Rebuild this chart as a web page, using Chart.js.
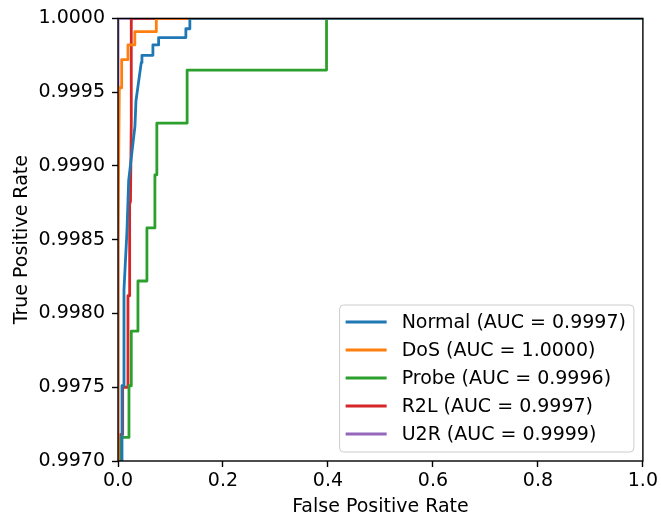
<!DOCTYPE html>
<html>
<head>
<meta charset="utf-8">
<title>ROC</title>
<script src="https://cdn.jsdelivr.net/npm/chart.js@4.4.1/dist/chart.umd.min.js"></script>
<style>
  html, body { margin: 0; padding: 0; background: #fff; }
  canvas { display: block; }
</style>
</head>
<body>
<canvas id="roc" width="661" height="520"></canvas>
<script>
// ROC curves per class (false positive rate / true positive rate)
const classNames = ["Normal", "DoS", "Probe", "R2L", "U2R"];
const aucValues = [0.9997, 1.0000, 0.9996, 0.9997, 0.9999];
const colors = ["#1f77b4", "#ff7f0e", "#2ca02c", "#d62728", "#9467bd"];

const normalFpr = [0, 0.0076, 0.0076, 0.0114, 0.0114, 0.0171, 0.0203, 0.0323, 0.0342, 0.0443, 0.0456, 0.0665, 0.0665, 0.0774, 0.0774, 0.1293, 0.1293, 0.1369, 0.1369, 1];
const normalTpr = [0, 0.9970, 0.99751, 0.99751, 0.99816, 0.99856, 0.99890, 0.99927, 0.99944, 0.99970, 0.99975, 0.99975, 0.99982, 0.99982, 0.99987, 0.99987, 0.99993, 0.99993, 1, 1];

const dosFpr = [0, 0, 0.0025, 0.007, 0.007, 0.019, 0.019, 0.032, 0.032, 0.073, 0.073, 1];
const dosTpr = [0, 0.9985, 0.99953, 0.99953, 0.99972, 0.99972, 0.99982, 0.99982, 0.99991, 0.99991, 1, 1];

const probeFpr = [0, 0.0057, 0.0057, 0.0209, 0.0209, 0.0253, 0.0253, 0.038, 0.038, 0.0551, 0.0551, 0.0703, 0.0703, 0.074, 0.074, 0.1317, 0.1317, 0.3973, 0.3973, 1];
const probeTpr = [0, 0.9970, 0.99716, 0.99716, 0.99751, 0.99751, 0.99788, 0.99788, 0.99822, 0.99822, 0.99858, 0.99858, 0.99894, 0.99894, 0.99929, 0.99929, 0.99965, 0.99965, 1, 1];

const r2lFpr = [0, 0.0051, 0.0051, 0.0089, 0.0089, 0.0184, 0.019, 0.0222, 0.0222, 0.0238, 0.0253, 0.0253, 1];
const r2lTpr = [0, 0.9970, 0.99718, 0.99718, 0.99750, 0.99750, 0.99812, 0.99812, 0.99874, 0.99876, 0.99930, 1, 1];

const u2rFpr = [0, 0, 1];
const u2rTpr = [0, 1, 1];

const xTicks = [0.0, 0.2, 0.4, 0.6, 0.8, 1.0];
const yTicks = [0.9970, 0.9975, 0.9980, 0.9985, 0.9990, 0.9995, 1.0000];

const FONT = '"DejaVu Sans", sans-serif';
const FONT_SIZE = 19;
const LINE_W = 2.8;

function toPoints(fpr, tpr) {
  return fpr.map((x, i) => ({ x, y: tpr[i] }));
}

const curves = [
  toPoints(normalFpr, normalTpr),
  toPoints(dosFpr, dosTpr),
  toPoints(probeFpr, probeTpr),
  toPoints(r2lFpr, r2lTpr),
  toPoints(u2rFpr, u2rTpr)
];

const datasets = curves.map((pts, i) => ({
  label: `${classNames[i]} (AUC = ${aucValues[i].toFixed(4)})`,
  data: pts,
  borderColor: colors[i],
  backgroundColor: colors[i],
  borderWidth: LINE_W,
  borderJoinStyle: "round",
  pointRadius: 0,
  tension: 0,
  fill: false
}));

/* ---------- frame round the plot area ---------- */
const frame = {
  id: "frame",
  afterDatasetsDraw(chart) {
    const { ctx, chartArea: a } = chart;
    ctx.save();
    ctx.strokeStyle = "#000";
    ctx.lineWidth = 1.4;
    ctx.strokeRect(a.left, a.top, a.right - a.left, a.bottom - a.top);
    ctx.restore();
  }
};

/* ---------- legend box, lower right inside the axes ---------- */
const legendBox = {
  id: "legendBox",
  afterDraw(chart) {
    const { ctx, chartArea: a } = chart;
    const sets = chart.data.datasets;
    ctx.save();
    ctx.font = `${FONT_SIZE}px ${FONT}`;
    const textW = Math.max(...sets.map(d => ctx.measureText(d.label).width));
    const padL = 6, handle = 41, gap = 15, padR = 8;
    const rowTop = 17, pitch = 28, padB = 18;
    const w = padL + handle + gap + textW + padR;
    const h = rowTop + pitch * (sets.length - 1) + padB;
    const right = a.right - 9, bottom = a.bottom - 9;
    const left = right - w, top = bottom - h;

    ctx.beginPath();
    ctx.roundRect(left, top, w, h, 4);
    ctx.fillStyle = "rgba(255,255,255,0.8)";
    ctx.fill();
    ctx.strokeStyle = "#cccccc";
    ctx.lineWidth = 1;
    ctx.stroke();

    sets.forEach((d, i) => {
      const y = top + rowTop + i * pitch;
      ctx.beginPath();
      ctx.moveTo(left + padL, y);
      ctx.lineTo(left + padL + handle, y);
      ctx.strokeStyle = d.borderColor;
      ctx.lineWidth = LINE_W;
      ctx.stroke();
      ctx.fillStyle = "#000";
      ctx.textBaseline = "middle";
      ctx.textAlign = "left";
      ctx.fillText(d.label, left + padL + handle + gap, y + 1);
    });
    ctx.restore();
  }
};

Chart.defaults.font.family = FONT;
Chart.defaults.font.size = FONT_SIZE;
Chart.defaults.color = "#000";

const axisGrid = {
  display: true,
  drawOnChartArea: false,
  drawTicks: true,
  tickLength: 6,
  tickColor: "#000",
  tickWidth: 1.4
};

new Chart(document.getElementById("roc"), {
  type: "line",
  data: { datasets },
  options: {
    responsive: false,
    animation: false,
    layout: { padding: { top: 17, right: 17, left: 0, bottom: 0 } },
    plugins: { legend: { display: false }, tooltip: { enabled: false } },
    scales: {
      x: {
        type: "linear",
        min: 0,
        max: 1,
        grid: axisGrid,
        border: { display: false },
        afterBuildTicks: s => { s.ticks = xTicks.map(v => ({ value: v })); },
        afterFit: s => { s.height = 59; },
        ticks: { autoSkip: false, maxRotation: 0, padding: 3, callback: v => Number(v).toFixed(1) },
        title: { display: true, text: "False Positive Rate", padding: { top: 0, bottom: 2 } }
      },
      y: {
        type: "linear",
        min: 0.997,
        max: 1.0,
        grid: axisGrid,
        border: { display: false },
        afterBuildTicks: s => { s.ticks = yTicks.map(v => ({ value: v })); },
        afterFit: s => { s.width = 118; },
        ticks: { autoSkip: false, padding: 7, callback: v => Number(v).toFixed(4) },
        title: { display: true, text: "True Positive Rate", padding: { top: 11, bottom: 0 } }
      }
    }
  },
  plugins: [frame, legendBox]
});
</script>
</body>
</html>
